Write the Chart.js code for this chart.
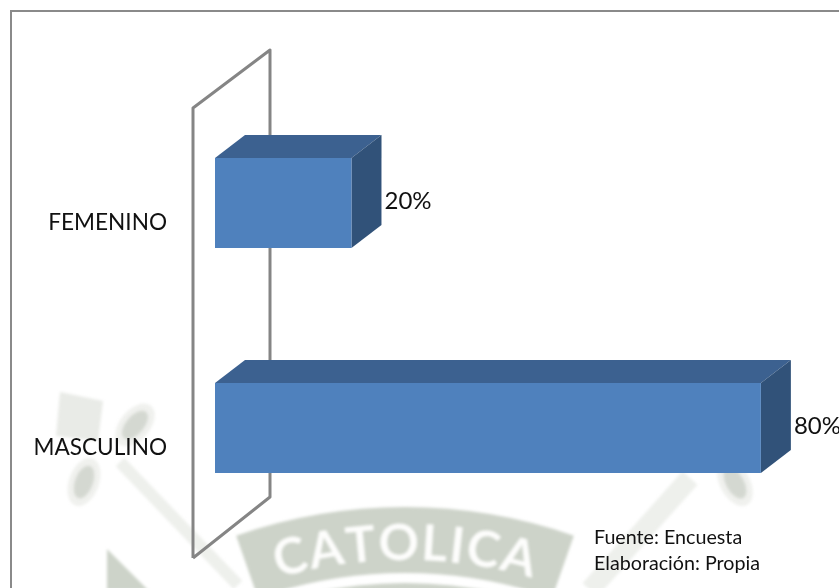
<!DOCTYPE html>
<html>
<head>
<meta charset="utf-8">
<title>Sexo</title>
<script src="https://cdn.jsdelivr.net/npm/chart.js@4"></script>
<style>
  html, body { margin: 0; padding: 0; background: #fff; }
  #wrap { position: relative; width: 839px; height: 588px; overflow: hidden; }
  #note { position: absolute; left: 594px; top: 524px; font: 19.7px/25.5px Lato, "Open Sans", sans-serif; color: #111; }
</style>
</head>
<body>
<div id="wrap">
  <canvas id="chart" width="839" height="588"></canvas>
  <div id="note">Fuente: Encuesta<br>Elaboración: Propia</div>
</div>
<script>
var categories = ['FEMENINO', 'MASCULINO'];
var values = [20, 80];
var tickLabels = ['20%', '80%'];

var depthX = 30, depthY = 23;

// faint university seal behind the chart, only the pieces that show
function drawWatermark(ctx) {
  var cx = 405, cy = 1019, a = 0.336;
  ctx.save();
  ctx.filter = 'blur(1.5px)';

  // ribbons and plaque
  ctx.strokeStyle = '#eef0ec';
  ctx.lineWidth = 12;
  ctx.beginPath();
  ctx.moveTo(120, 462); ctx.lineTo(238, 585);
  ctx.stroke();
  ctx.lineWidth = 20;
  ctx.beginPath();
  ctx.moveTo(690, 478); ctx.lineTo(590, 590);
  ctx.stroke();
  ctx.fillStyle = '#e9ebe7';
  ctx.beginPath();
  ctx.moveTo(60, 392); ctx.lineTo(103, 401); ctx.lineTo(98, 441); ctx.lineTo(56, 436);
  ctx.closePath();
  ctx.fill();

  // seals on the ribbons
  [[135, 425, 0.7], [84, 482, 0.35], [735, 483, -0.5]].forEach(function (o) {
    ctx.fillStyle = '#f0f1ee';
    ctx.beginPath();
    ctx.ellipse(o[0], o[1], 15, 25, o[2], 0, Math.PI * 2);
    ctx.fill();
    ctx.fillStyle = '#d4d8d1';
    ctx.beginPath();
    ctx.ellipse(o[0], o[1], 9, 17, o[2], 0, Math.PI * 2);
    ctx.fill();
  });

  // lower left corner of the shield
  ctx.fillStyle = '#cdd3c9';
  ctx.beginPath();
  ctx.moveTo(107, 549); ctx.lineTo(148, 590); ctx.lineTo(107, 590);
  ctx.closePath();
  ctx.fill();

  // band with the name
  ctx.beginPath();
  ctx.arc(cx, cy, 512, Math.PI * 1.5 - a, Math.PI * 1.5 + a);
  ctx.arc(cx, cy, 446, Math.PI * 1.5 + a, Math.PI * 1.5 - a, true);
  ctx.closePath();
  ctx.fill();
  ctx.beginPath();
  ctx.arc(cx, cy, 436, Math.PI * 1.5 - a, Math.PI * 1.5 + a);
  ctx.arc(cx, cy, 400, Math.PI * 1.5 + a, Math.PI * 1.5 - a, true);
  ctx.closePath();
  ctx.fill();

  ctx.fillStyle = '#fdfdfc';
  ctx.font = 'bold 50px Lato, sans-serif';
  ctx.textAlign = 'center';
  ctx.textBaseline = 'alphabetic';
  var word = 'CATOLICA', radius = 459, spacing = 1.5;
  var total = 0;
  for (var i = 0; i < word.length; i++) total += ctx.measureText(word[i]).width + spacing;
  var pos = -total / 2;
  for (var j = 0; j < word.length; j++) {
    var w = ctx.measureText(word[j]).width + spacing;
    ctx.save();
    ctx.translate(cx, cy);
    ctx.rotate((pos + w / 2) / radius);
    ctx.fillText(word[j], 0, -radius);
    ctx.restore();
    pos += w;
  }
  ctx.restore();
}

var scene = {
  id: 'scene',
  beforeDraw: function (chart) {
    var ctx = chart.ctx, area = chart.chartArea;
    drawWatermark(ctx);

    // outer frame of the picture
    ctx.save();
    ctx.strokeStyle = '#8a8a8a';
    ctx.lineWidth = 2;
    ctx.beginPath();
    ctx.moveTo(11, 588); ctx.lineTo(11, 11); ctx.lineTo(839, 11);
    ctx.stroke();

    // back wall of the 3d plot
    var wl = area.left - 22, wr = wl + 77;
    ctx.strokeStyle = '#858585';
    ctx.lineWidth = 3;
    ctx.lineJoin = 'round';
    ctx.beginPath();
    ctx.moveTo(wl, 558); ctx.lineTo(wl, 108); ctx.lineTo(wr, 50);
    ctx.lineTo(wr, 497); ctx.lineTo(wl, 558);
    ctx.stroke();
    ctx.restore();
  },
  beforeDatasetsDraw: function (chart) {
    var ctx = chart.ctx;
    ctx.save();
    // top and side faces of the bars
    chart.getDatasetMeta(0).data.forEach(function (bar) {
      var left = bar.base, right = bar.x;
      var top = bar.y - bar.height / 2, bottom = bar.y + bar.height / 2;
      ctx.fillStyle = '#3c6190';
      ctx.beginPath();
      ctx.moveTo(left, top); ctx.lineTo(left + depthX, top - depthY);
      ctx.lineTo(right + depthX, top - depthY); ctx.lineTo(right, top);
      ctx.closePath();
      ctx.fill();
      ctx.fillStyle = '#315279';
      ctx.beginPath();
      ctx.moveTo(right, top); ctx.lineTo(right + depthX, top - depthY);
      ctx.lineTo(right + depthX, bottom - depthY); ctx.lineTo(right, bottom);
      ctx.closePath();
      ctx.fill();
    });
    ctx.restore();
  },
  afterDatasetsDraw: function (chart) {
    var ctx = chart.ctx;
    ctx.save();
    ctx.fillStyle = '#111';
    ctx.font = '24px Lato, "Open Sans", sans-serif';
    ctx.textAlign = 'left';
    ctx.textBaseline = 'middle';
    chart.getDatasetMeta(0).data.forEach(function (bar, i) {
      ctx.fillText(tickLabels[i], bar.x + 33, bar.y - 2);
    });
    ctx.restore();
  }
};

new Chart(document.getElementById('chart').getContext('2d'), {
  type: 'bar',
  data: {
    labels: categories,
    datasets: [{
      data: values,
      backgroundColor: '#4f81bd',
      borderWidth: 0,
      barPercentage: 0.4,
      categoryPercentage: 1
    }]
  },
  options: {
    indexAxis: 'y',
    responsive: false,
    animation: false,
    layout: { padding: { top: 90.5, bottom: 47.5, right: 44 } },
    plugins: { legend: { display: false }, tooltip: { enabled: false } },
    scales: {
      x: { display: false, min: 0, max: 85, grid: { display: false } },
      y: {
        // tick padding also eats vertical room otherwise
        afterFit: function (scale) {
          scale.width = 215;
          scale.paddingTop = 0;
          scale.paddingBottom = 0;
        },
        grid: { display: false, drawTicks: false },
        border: { display: false },
        ticks: {
          color: '#111',
          padding: 48,
          labelOffset: 20,
          font: { family: 'Lato, "Open Sans", sans-serif', size: 22.6 }
        }
      }
    }
  },
  plugins: [scene]
});
</script>
</body>
</html>
